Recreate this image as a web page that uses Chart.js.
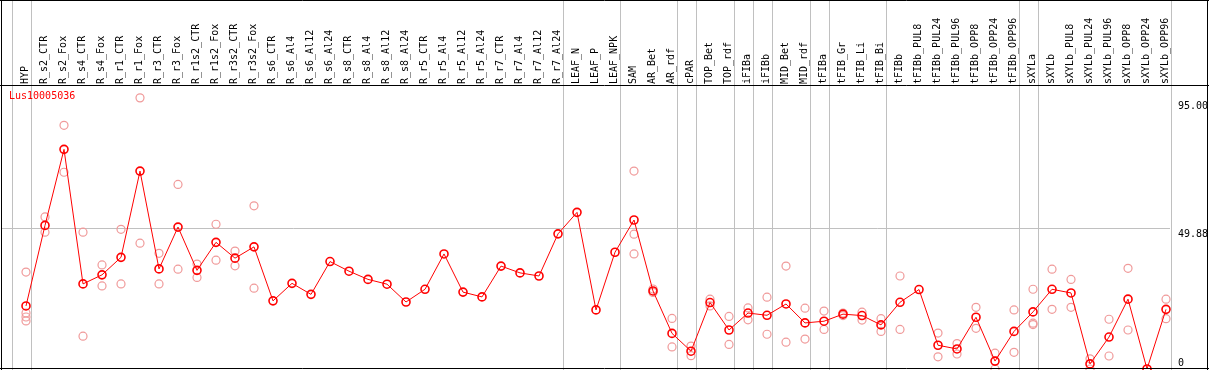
<!DOCTYPE html>
<html>
<head>
<meta charset="utf-8">
<script src="https://cdn.jsdelivr.net/npm/chart.js@4.4.0/dist/chart.umd.min.js"></script>
<style>
  body { margin: 0; background: #fff; }
  #wrap { width: 1209px; height: 370px; }
</style>
</head>
<body>
<div id="wrap"><canvas id="geneChart" width="1209" height="370"></canvas></div>
<script>
// categories (samples)
const categories = [
  'HYP', 'R_s2_CTR', 'R_s2_Fox', 'R_s4_CTR', 'R_s4_Fox', 'R_r1_CTR', 'R_r1_Fox',
  'R_r3_CTR', 'R_r3_Fox', 'R_r1s2_CTR', 'R_r1s2_Fox', 'R_r3s2_CTR', 'R_r3s2_Fox',
  'R_s6_CTR', 'R_s6_Al4', 'R_s6_Al12', 'R_s6_Al24', 'R_s8_CTR', 'R_s8_Al4', 'R_s8_Al12',
  'R_s8_Al24', 'R_r5_CTR', 'R_r5_Al4', 'R_r5_Al12', 'R_r5_Al24', 'R_r7_CTR', 'R_r7_Al4',
  'R_r7_Al12', 'R_r7_Al24', 'LEAF_N', 'LEAF_P', 'LEAF_NPK', 'SAM', 'AR_Bet', 'AR_rdf',
  'cPAR', 'TOP_Bet', 'TOP_rdf', 'iFIBa', 'iFIBb', 'MID_Bet', 'MID_rdf', 'tFIBa',
  'tFIB_Gr', 'tFIB_Li', 'tFIB_Bi', 'tFIBb', 'tFIBb_PUL8', 'tFIBb_PUL24', 'tFIBb_PUL96',
  'tFIBb_OPP8', 'tFIBb_OPP24', 'tFIBb_OPP96', 'sXYLa', 'sXYLb', 'sXYLb_PUL8',
  'sXYLb_PUL24', 'sXYLb_PUL96', 'sXYLb_OPP8', 'sXYLb_OPP24', 'sXYLb_OPP96'
];

// mean expression (red line)
const meanValues = [
  22.3, 50.8, 77.7, 30.1, 33.3, 39.5, 70.0,
  35.4, 50.2, 34.9, 44.8, 39.2, 43.2,
  24.1, 30.3, 26.4, 38.0, 34.6, 31.7, 30.0,
  23.7, 28.2, 40.7, 27.2, 25.5, 36.4, 34.0,
  32.9, 47.8, 55.4, 20.9, 41.3, 52.7, 27.6, 12.6,
  6.3, 23.5, 13.8, 19.8, 19.0, 23.0, 16.3, 16.9,
  19.4, 18.9, 15.6, 23.6, 28.1, 8.4, 7.1,
  18.3, 2.8, 13.3, 20.2, 28.2, 26.9,
  1.8, 11.3, 24.7, 0.0, 21.1
];

// replicate values (pink circles), one list per category
const replicateValues = [
  [34.3, 19.8, 18.4, 17.0], [53.8, 48.4], [86.2, 69.6], [48.4, 11.6], [36.8, 29.4], [49.4, 30.1], [95.9, 44.5],
  [40.9, 30.1], [65.3, 35.3], [37.1, 32.4], [51.2, 38.5], [41.7, 36.5], [57.7, 28.6],
  [], [], [], [], [], [], [],
  [], [], [], [], [], [], [],
  [], [], [], [], [], [70.0, 47.7, 40.7], [28.3, 27.1], [17.9, 7.8],
  [8.1, 4.7], [24.7, 22.3], [18.6, 8.7], [21.6, 17.4], [25.4, 12.3], [36.4, 9.5], [21.5, 10.6], [20.5, 14.0],
  [19.8, 18.9], [20.1, 17.3], [17.8, 13.3], [32.9, 14.0], [], [12.7, 4.3], [9.0, 5.3],
  [21.8, 14.4], [5.6, 0.0], [20.9, 5.9], [28.2, 16.2, 15.7], [35.3, 21.1], [31.7, 21.8],
  [3.6, 0.0], [17.6, 4.6], [35.6, 13.8], [], [24.7, 17.8]
];

// separators are drawn after these category indexes
const groupEnds = [-1, 0, 28, 31, 34, 35, 37, 38, 39, 41, 42, 45, 52, 53, 60];

// right hand tick labels
const yTickValues = [95, 49.88, 0];
const yTickLabels = ['95.00', '49.88', '0'];
const seriesName = 'Lus10005036';

const monoFont = '10px "DejaVu Sans Mono", monospace';

const meanPoints = meanValues.map((v, i) => ({ x: i, y: v }));
const repPoints = [];
replicateValues.forEach((list, i) => {
  list.forEach(v => repPoints.push({ x: i, y: v }));
});

// frame, separators, grid line and texts
const framePlugin = {
  id: 'framePlugin',
  beforeDatasetsDraw(chart) {
    const c = chart.ctx;
    const xs = chart.scales.x;
    const ys = chart.scales.y;
    const area = chart.chartArea;
    c.save();
    c.strokeStyle = '#c0c0c0';
    c.lineWidth = 1;
    groupEnds.forEach(g => {
      const px = Math.round(xs.getPixelForValue(g + 0.25)) + 0.5;
      c.beginPath();
      c.moveTo(px, 0);
      c.lineTo(px, chart.height);
      c.stroke();
    });
    const gy = Math.round(ys.getPixelForValue(49.88)) + 0.5;
    c.beginPath();
    c.moveTo(area.left, gy);
    c.lineTo(area.right, gy);
    c.stroke();
    c.restore();
  },
  afterDraw(chart) {
    const c = chart.ctx;
    const ys = chart.scales.y;
    const area = chart.chartArea;
    c.save();
    c.strokeStyle = '#000';
    c.lineWidth = 1;
    c.beginPath();
    c.moveTo(0, 0.5); c.lineTo(chart.width, 0.5);
    c.moveTo(0, area.top - 0.5); c.lineTo(chart.width, area.top - 0.5);
    c.moveTo(0, chart.height - 1.5); c.lineTo(chart.width, chart.height - 1.5);
    c.moveTo(1.5, 0); c.lineTo(1.5, chart.height);
    c.moveTo(chart.width - 1.5, 0); c.lineTo(chart.width - 1.5, chart.height);
    c.stroke();

    c.font = monoFont;
    c.fillStyle = '#000';
    c.textAlign = 'left';
    yTickValues.forEach((v, k) => {
      const py = ys.getPixelForValue(v);
      c.textBaseline = v === 0 ? 'bottom' : 'top';
      c.fillText(yTickLabels[k], area.right + 8, v === 0 ? py - 1 : py + 1);
    });

    c.fillStyle = '#ff0000';
    c.textBaseline = 'top';
    c.fillText(seriesName, 9, area.top + 5);
    c.restore();
  }
};

const ctx = document.getElementById('geneChart').getContext('2d');

new Chart(ctx, {
  type: 'line',
  data: {
    datasets: [
      {
        label: seriesName,
        data: meanPoints,
        borderColor: '#ff0000',
        borderWidth: 1,
        pointRadius: 4,
        pointBorderWidth: 1.6,
        pointBorderColor: '#ff0000',
        pointBackgroundColor: 'rgba(0,0,0,0)',
        tension: 0,
        clip: false
      },
      {
        label: 'replicates',
        data: repPoints,
        showLine: false,
        pointRadius: 4,
        pointBorderWidth: 1.2,
        pointBorderColor: '#f09a9a',
        pointBackgroundColor: 'rgba(0,0,0,0)',
        clip: false
      }
    ]
  },
  options: {
    responsive: false,
    animation: false,
    devicePixelRatio: 1,
    layout: { autoPadding: false, padding: { left: 1, right: 39, top: 1, bottom: 1 } },
    plugins: {
      legend: { display: false },
      tooltip: { enabled: false }
    },
    scales: {
      x: {
        type: 'linear',
        position: 'top',
        min: -1.316,
        max: 60.21,
        afterBuildTicks(scale) {
          scale.ticks = categories.map((c, i) => ({ value: i }));
        },
        afterFit(scale) {
          scale.height = 85;
          scale.paddingLeft = 0;
          scale.paddingRight = 0;
        },
        grid: { display: false, drawTicks: false },
        border: { display: false },
        ticks: {
          autoSkip: false,
          minRotation: 90,
          maxRotation: 90,
          padding: 2,
          labelOffset: 11,
          color: '#000',
          font: { family: '"DejaVu Sans Mono", monospace', size: 10 },
          callback: v => categories[v] !== undefined ? categories[v] : ''
        }
      },
      y: {
        display: false,
        min: 0,
        max: 100.1
      }
    }
  },
  plugins: [framePlugin]
});
</script>
</body>
</html>
